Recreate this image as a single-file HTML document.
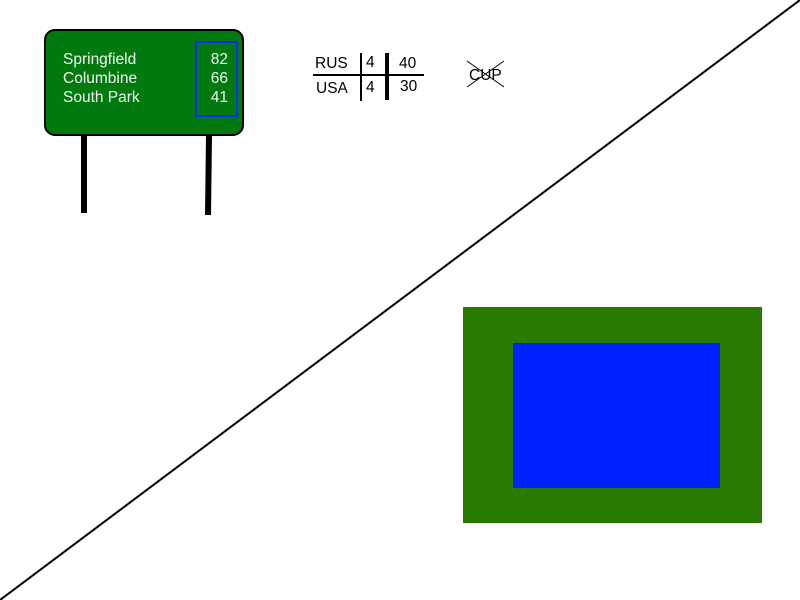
<!DOCTYPE html>
<html><head><style>body{margin:0;background:#fff}svg{display:block}</style></head><body>
<svg width="800" height="600" xmlns="http://www.w3.org/2000/svg" font-family="Liberation Sans, Arial, sans-serif">
<line x1="0" y1="600" x2="800" y2="0" stroke="#000" stroke-width="2"/>
<rect x="45" y="30" width="198" height="105" rx="10" fill="#007a0e" stroke="#000" stroke-width="2"/>
<rect x="196" y="42" width="41" height="74" fill="none" stroke="#0a2cff" stroke-width="2"/>
<g fill="#f0f8f0" font-size="15.5">
<text x="63" y="64">Springfield</text><text x="63" y="83">Columbine</text><text x="63" y="102">South Park</text>
<text x="228" y="64" text-anchor="end">82</text><text x="228" y="83" text-anchor="end">66</text><text x="228" y="102" text-anchor="end">41</text>
</g>
<line x1="84" y1="136" x2="84" y2="213" stroke="#000" stroke-width="6"/>
<line x1="209" y1="136" x2="208" y2="215" stroke="#000" stroke-width="6"/>
<line x1="313" y1="75" x2="424" y2="75" stroke="#000" stroke-width="2"/>
<line x1="361" y1="53" x2="361" y2="101" stroke="#000" stroke-width="2"/>
<line x1="387" y1="53" x2="387" y2="100" stroke="#000" stroke-width="4"/>
<g font-size="15.5" fill="#000">
<text x="315" y="68">RUS</text><text x="316" y="93">USA</text>
<text x="366" y="67">4</text><text x="366" y="92">4</text>
<text x="399" y="68">40</text><text x="400" y="91">30</text>
<text x="469" y="80">CUP</text>
</g>
<line x1="467" y1="61" x2="504" y2="87" stroke="#000" stroke-width="1"/>
<line x1="504" y1="61" x2="467" y2="87" stroke="#000" stroke-width="1"/>
<rect x="463" y="307" width="299" height="216" fill="#267b00"/>
<rect x="513" y="343" width="207" height="145" fill="#0022ff"/>
</svg>
</body></html>
